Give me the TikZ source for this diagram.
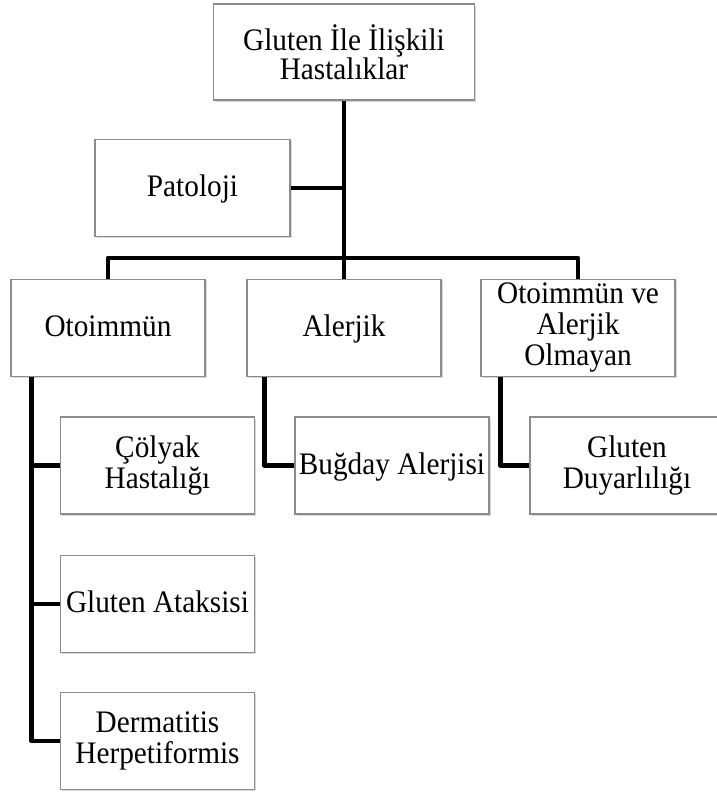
\documentclass[tikz,border=0pt]{standalone}
\usepackage{fontspec}
\setmainfont{Liberation Serif}[FakeStretch=0.935]
\usetikzlibrary{shadows}
\definecolor{kutugri}{RGB}{140,140,140}

\begin{document}
\begin{tikzpicture}[x=1pt, y=1pt,
	kutu/.style={draw=kutugri, line width=1.2pt, fill=white, align=center, minimum width=194pt, minimum height=97pt, inner sep=2pt, font=\fontsize{31.3}{31}\selectfont, drop shadow={shadow xshift=1.5pt, shadow yshift=-2pt, fill=black!30}},
	tek/.style={text height=24pt, text depth=6pt},
	bag/.style={black, line width=4.6pt, line join=round}]
			\useasboundingbox (0,0) rectangle (716,796);
			\node[kutu, minimum width=261pt, minimum height=96pt, font=\fontsize{31.3}{28.5}\selectfont] (hastalik) at (344,744) {Gluten İle İlişkili\\Hastalıklar};
			\node[kutu, tek, minimum width=195pt] (patoloji) at (192.5,608) {Patoloji};
			\node[kutu, tek] (otoimmun) at (108,468) {Otoimmün};
			\node[kutu, tek] (alerjik) at (344,468) {Alerjik};
			\node[kutu] (oav) at (578,468) {Otoimmün ve\\Alerjik\\Olmayan};
			\node[kutu] (colyak) at (157.5,330.5) {Çölyak\\Hastalığı};
			\node[kutu, tek] (bugday) at (392,330.5) {Buğday Alerjisi};
			\node[kutu] (duyar) at (627,330.5) {Gluten\\Duyarlılığı};
			\node[kutu, tek] (ataksi) at (157.5,192) {Gluten Ataksisi};
			\node[kutu] (derma) at (157.5,55) {Dermatitis\\Herpetiformis};
			\coordinate (bus) at (344,538);
			\coordinate (sol) at ([xshift=21pt]otoimmun.south west);
			\coordinate (orta) at ([xshift=18pt]alerjik.south west);
			\coordinate (sag) at ([xshift=20pt]oav.south west);
			\draw[bag] (hastalik.south) -- (alerjik.north);
			\draw[bag] (patoloji.east) -- (patoloji.east -| hastalik.south);
			\draw[bag] (otoimmun.north) |- (bus) -| (oav.north);
			\draw[bag] (sol) |- (derma.west);
			\draw[bag] (sol |- colyak.west) -- (colyak.west);
			\draw[bag] (sol |- ataksi.west) -- (ataksi.west);
			\draw[bag] (orta) |- (bugday.west);
			\draw[bag] (sag) |- (duyar.west);
\end{tikzpicture}
\end{document}
